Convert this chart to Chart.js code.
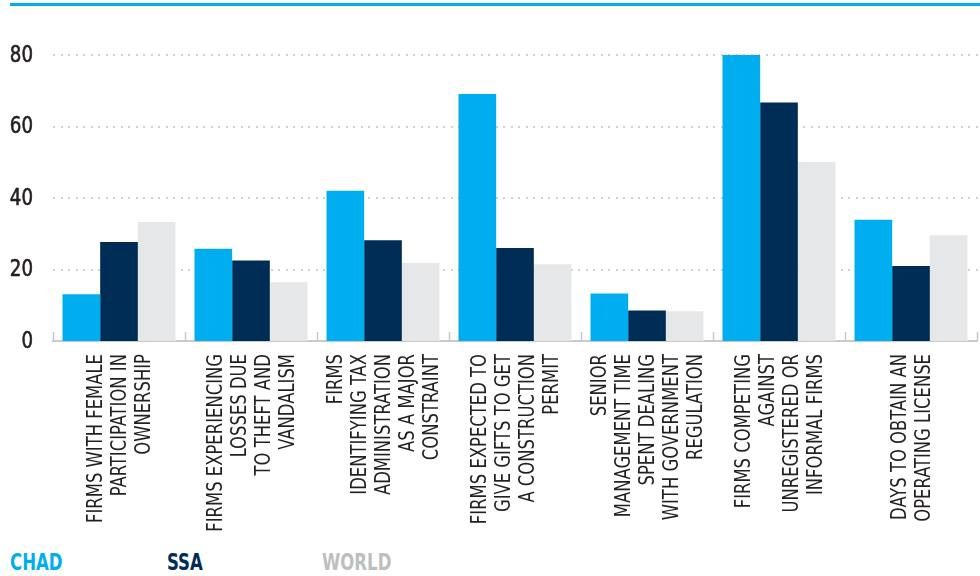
<!DOCTYPE html>
<html>
<head>
<meta charset="utf-8">
<script src="https://cdn.jsdelivr.net/npm/chart.js@4/dist/chart.umd.min.js"></script>
<style>
  html, body { margin: 0; padding: 0; background: #fff; }
  body { width: 980px; height: 576px; position: relative; overflow: hidden; }
  .topline { position: absolute; left: 10px; top: 3px; width: 970px; height: 3px; background: #00aeef; }
  .wrap { position: absolute; left: 0; top: 0; width: 980px; height: 545px; }
  .legend span {
    position: absolute; top: 551px;
    font: bold 23px 'DejaVu Sans Condensed', sans-serif;
    line-height: 23px;
    transform: scaleX(0.8);
    transform-origin: left center;
  }
</style>
</head>
<body>
<div class="topline"></div>
<div class="wrap"><canvas id="chart"></canvas></div>
<div class="legend">
  <span style="left:10px;color:#00aeef">CHAD</span>
  <span style="left:167px;color:#002d56">SSA</span>
  <span style="left:322px;color:#bcbec0">WORLD</span>
</div>
<script>
const FONT = "'DejaVu Sans Condensed', sans-serif";

const categories = [
  ['FIRMS WITH FEMALE', 'PARTICIPATION IN', 'OWNERSHIP'],
  ['FIRMS EXPERIENCING', 'LOSSES DUE', 'TO THEFT AND', 'VANDALISM'],
  ['FIRMS', 'IDENTIFYING TAX', 'ADMINISTRATION', 'AS A MAJOR', 'CONSTRAINT'],
  ['FIRMS EXPECTED TO', 'GIVE GIFTS TO GET', 'A CONSTRUCTION', 'PERMIT'],
  ['SENIOR', 'MANAGEMENT TIME', 'SPENT DEALING', 'WITH GOVERNMENT', 'REGULATION'],
  ['FIRMS COMPETING', 'AGAINST', 'UNREGISTERED OR', 'INFORMAL FIRMS'],
  ['DAYS TO OBTAIN AN', 'OPERATING LICENSE'],
];
const chad  = [13.1, 25.8, 42.0, 69.1, 13.3, 80.0, 33.9];
const ssa   = [27.7, 22.5, 28.2, 26.0, 8.5, 66.7, 21.0];
const world = [33.3, 16.4, 21.8, 21.5, 8.3, 50.1, 29.6];
const yTicks = [0, 20, 40, 60, 80];

// dotted gridlines and condensed y labels, drawn from the y scale
const yDecor = {
  id: 'yDecor',
  beforeDatasetsDraw(chart) {
    const { ctx, chartArea, scales: { y } } = chart;
    ctx.save();
    ctx.fillStyle = '#cfd0d2';
    yTicks.forEach(v => {
      if (v === 0) return;
      const py = Math.round(y.getPixelForValue(v));
      for (let px = chartArea.left; px < 980; px += 7.5) {
        ctx.fillRect(Math.round(px), py - 1, 2, 2);
      }
    });
    ctx.fillStyle = '#231f20';
    ctx.font = '23px ' + FONT;
    ctx.textAlign = 'right';
    ctx.textBaseline = 'middle';
    yTicks.forEach(v => {
      ctx.save();
      ctx.translate(33, y.getPixelForValue(v) + 1);
      ctx.scale(0.88, 1);
      ctx.fillText(String(v), 0, 0);
      ctx.strokeStyle = '#231f20';
      ctx.lineWidth = 0.6;
      ctx.strokeText(String(v), 0, 0);
      ctx.restore();
    });
    ctx.restore();
  }
};

// short upward marks at category boundaries + rotated multi-line labels
const xDecor = {
  id: 'xDecor',
  afterDraw(chart) {
    const { ctx, scales: { x } } = chart;
    const base = x.top;
    ctx.save();
    ctx.strokeStyle = '#c8c9cb';
    ctx.lineWidth = 1.5;
    for (let i = 0; i <= categories.length; i++) {
      const px = Math.round(x.getPixelForValue(i - 0.5)) + 0.5;
      ctx.beginPath();
      ctx.moveTo(px, base);
      ctx.lineTo(px, base - 9);
      ctx.stroke();
    }
    ctx.fillStyle = '#231f20';
    ctx.font = '22px ' + FONT;
    ctx.textAlign = 'right';
    ctx.textBaseline = 'middle';
    const lh = 24;
    categories.forEach((lines, i) => {
      const cx = x.getPixelForValue(i);
      ctx.save();
      ctx.translate(cx, base + 13);
      ctx.rotate(-Math.PI / 2);
      ctx.scale(0.83, 1);
      lines.forEach((line, j) => {
        ctx.fillText(line, 0, (j - (lines.length - 1) / 2) * lh + 1);
      });
      ctx.restore();
    });
    ctx.restore();
  }
};

new Chart(document.getElementById('chart'), {
  type: 'bar',
  data: {
    labels: categories.map(c => c.join(' ')),
    datasets: [
      { label: 'CHAD', data: chad, backgroundColor: '#00aeef' },
      { label: 'SSA', data: ssa, backgroundColor: '#002d56' },
      { label: 'WORLD', data: world, backgroundColor: '#e6e7e8' },
    ]
  },
  options: {
    responsive: true,
    maintainAspectRatio: false,
    animation: false,
    layout: { padding: { top: 55, right: 3, left: 0, bottom: 0 } },
    datasets: { bar: { categoryPercentage: 0.856, barPercentage: 1, borderWidth: 0 } },
    plugins: { legend: { display: false }, tooltip: { enabled: false } },
    scales: {
      x: {
        grid: { display: false },
        border: { display: true, color: '#c8c9cb', width: 2 },
        ticks: { display: false },
        afterFit: s => { s.height = 204; }
      },
      y: {
        min: 0,
        max: 80,
        afterBuildTicks: s => { s.ticks = yTicks.map(v => ({ value: v })); },
        afterFit: s => { s.width = 53; },
        border: { display: false },
        grid: { display: false },
        ticks: { display: false }
      }
    }
  },
  plugins: [yDecor, xDecor]
});
</script>
</body>
</html>
